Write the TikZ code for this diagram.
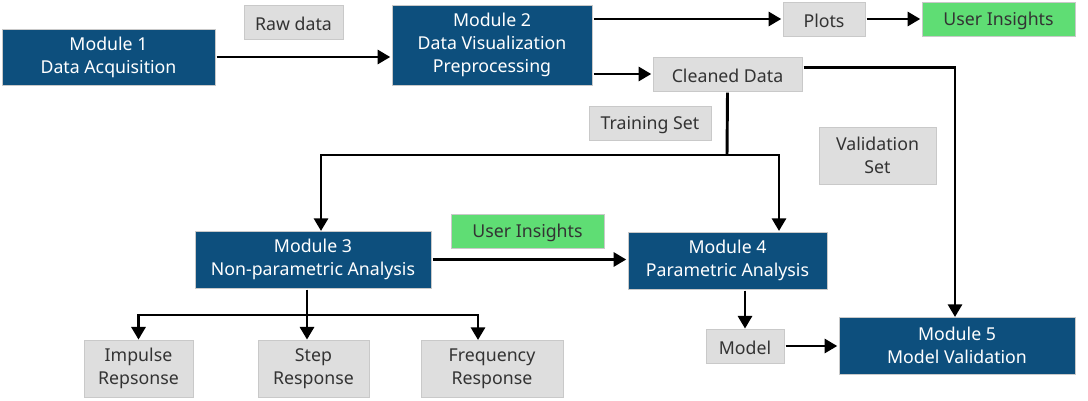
\documentclass[tikz,border=0pt]{standalone}
\usepackage{fontspec}
\setmainfont{Noto Sans}
\usetikzlibrary{arrows.meta}
\definecolor{modblue}{HTML}{0D4F7D}
\definecolor{boxgray}{HTML}{DEDEDE}
\definecolor{edgegray}{HTML}{C9C9C9}
\definecolor{insgreen}{HTML}{5FDD74}
\definecolor{txtgray}{HTML}{333333}
\begin{document}
\begin{tikzpicture}[x=0.75pt,y=-0.75pt,
  base/.style={rectangle,inner sep=0pt,align=center,draw=edgegray,line width=0.6pt,
    font=\fontsize{13.3}{17.4}\selectfont,
    execute at begin node={\rule{0pt}{13pt}}},
  module/.style={base,fill=modblue,text=white},
  data/.style={base,fill=boxgray,text=txtgray},
  insight/.style={base,fill=insgreen,text=txtgray},
  conn/.style={line width=2.2pt,black},
  arr/.style={conn,-{Triangle[length=9.5pt,width=10.5pt]}},
]
\useasboundingbox (0,0) rectangle (1088,400);
\node[module,minimum width=213*0.75pt,minimum height=56*0.75pt] (m1) at (108.5,57) {Module 1\\Data Acquisition};
\node[data,minimum width=99*0.75pt,minimum height=34*0.75pt] (raw) at (293.5,22) {Raw data};
\node[module,minimum width=200*0.75pt,minimum height=80*0.75pt] (m2) at (492,45) {Module 2\\Data Visualization\\Preprocessing};
\node[data,minimum width=82*0.75pt,minimum height=34*0.75pt] (plots) at (824,19) {Plots};
\node[insight,minimum width=153*0.75pt,minimum height=34*0.75pt] (ui1) at (998.5,19) {User Insights};
\node[data,minimum width=149*0.75pt,minimum height=34*0.75pt] (clean) at (727.5,74) {Cleaned Data};
\node[data,minimum width=122*0.75pt,minimum height=34*0.75pt] (train) at (650,123) {Training Set};
\node[data,minimum width=117*0.75pt,minimum height=57*0.75pt] (val) at (877.5,155.5) {Validation\\Set};
\node[module,minimum width=236*0.75pt,minimum height=57*0.75pt] (m3) at (313,259.5) {Module 3\\Non-parametric Analysis};
\node[insight,minimum width=153*0.75pt,minimum height=34*0.75pt] (ui2) at (527.5,231) {User Insights};
\node[module,minimum width=199*0.75pt,minimum height=57*0.75pt] (m4) at (727.5,260.5) {Module 4\\Parametric Analysis};
\node[module,minimum width=236*0.75pt,minimum height=57*0.75pt] (m5) at (957,345.5) {Module 5\\Model Validation};
\node[data,minimum width=78*0.75pt,minimum height=34*0.75pt] (model) at (745,346) {Model};
\node[data,minimum width=109*0.75pt,minimum height=57*0.75pt] (imp) at (138.5,368.5) {Impulse\\Repsonse};
\node[data,minimum width=111*0.75pt,minimum height=57*0.75pt] (step) at (313.5,368.5) {Step\\Response};
\node[data,minimum width=142*0.75pt,minimum height=57*0.75pt] (freq) at (492,368.5) {Frequency\\Response};

\coordinate (bus) at (727,155);
\coordinate (m3in) at (321,231);
\coordinate (m4in) at (779,231);
\coordinate (split) at (307,315);
\coordinate (freqin) at (478,340);
\coordinate (m5in) at (955,317);

\draw[arr] ([xshift=1pt]m1.east) -- ([xshift=-1pt]m1.east -| m2.west);
\draw[arr] ([xshift=1pt]m2.east |- plots.west) -- ([xshift=-1pt]plots.west);
\draw[arr] ([xshift=1pt]plots.east) -- ([xshift=-1pt]ui1.west);
\draw[arr] ([xshift=1pt]m2.east |- clean.west) -- ([xshift=-1pt]clean.west);
\draw[arr] ([xshift=1pt,yshift=5pt]clean.east) -| (m5in);
\draw[conn] ([yshift=-1pt]clean.south) -- (bus);
\draw[arr] (bus) -| (m3in);
\draw[arr] (bus) -| (m4in);
\draw[arr] ([xshift=1pt]m3.east) -- ([xshift=-1pt]m3.east -| m4.west);
\draw[conn] ([yshift=-1pt]split |- m3.south) -- (split);
\draw[arr] (split) -| (imp.north);
\draw[arr] (split) -- (split |- step.north);
\draw[arr] (split) -| (freqin);
\draw[arr] ([yshift=-1pt]model.north |- m4.south) -- (model.north);
\draw[arr] ([xshift=1pt]model.east) -- ([xshift=-1pt]model.east -| m5.west);
\end{tikzpicture}
\end{document}
